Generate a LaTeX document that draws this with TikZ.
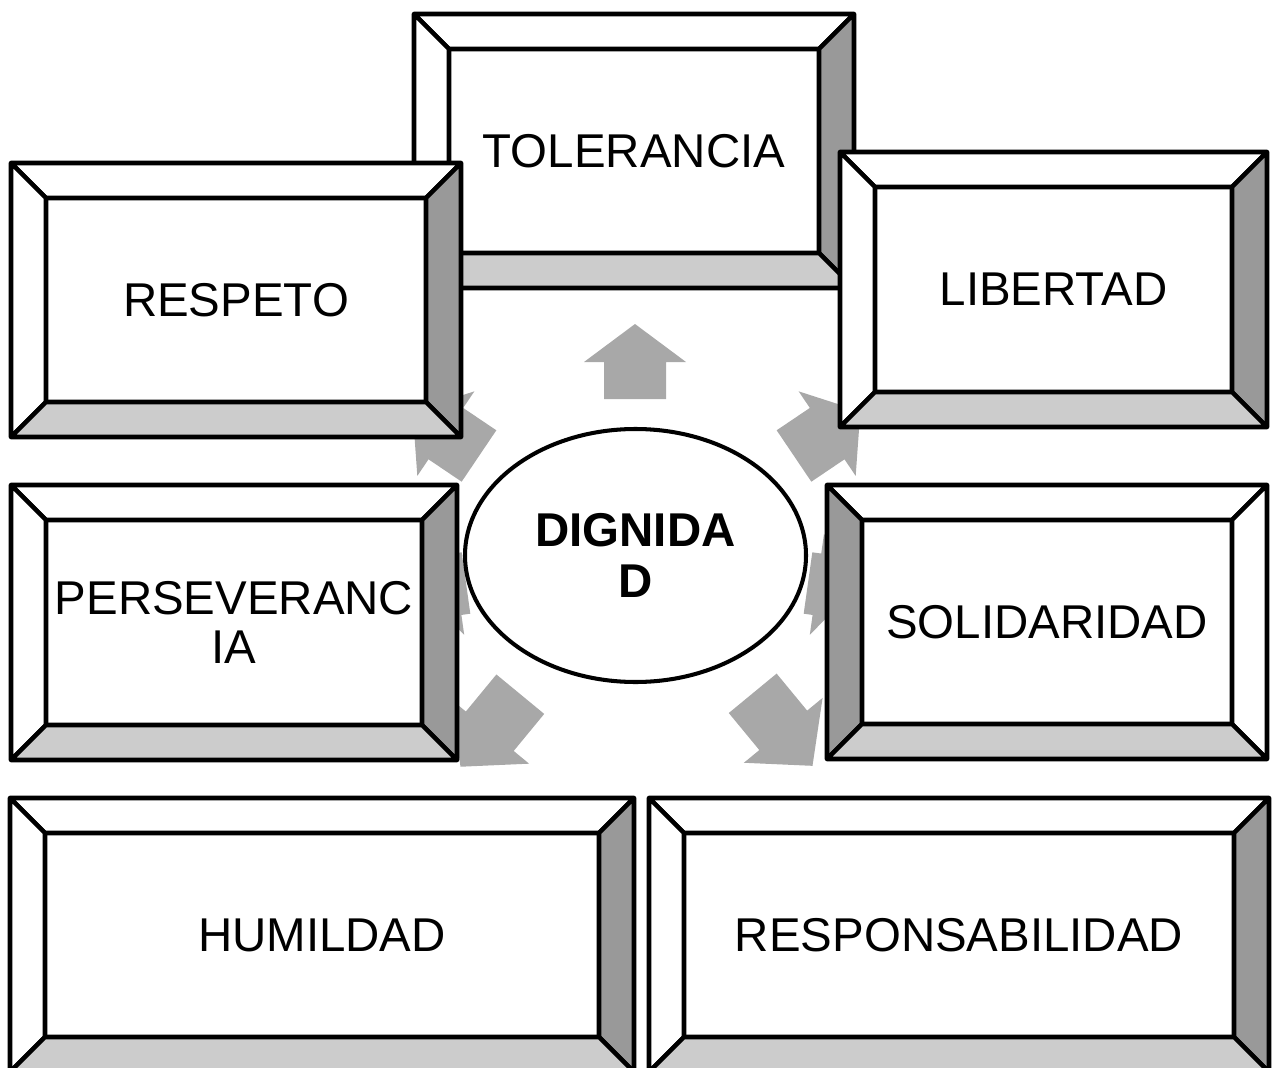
\documentclass[tikz,border=0pt]{standalone}
\usepackage{fontspec}
\setmainfont{Liberation Sans}
\usetikzlibrary{shapes.geometric}
\definecolor{bevdark}{HTML}{999999}
\definecolor{bevlight}{HTML}{CCCCCC}
\definecolor{spokegray}{HTML}{A8A8A8}
\newcommand{\px}{0.02cm}
\newcommand{\bevelframe}[3]{%
  \draw[frame, fill=white] (#1.north west) -- ([shift={(-35,-35)}]#1.north west) -- ([shift={(35,-35)}]#1.north east) -- (#1.north east) -- cycle;
  \draw[frame, fill=#2] (#1.north west) -- ([shift={(-35,-35)}]#1.north west) -- ([shift={(-35,35)}]#1.south west) -- (#1.south west) -- cycle;
  \draw[frame, fill=#3] (#1.north east) -- ([shift={(35,-35)}]#1.north east) -- ([shift={(35,35)}]#1.south east) -- (#1.south east) -- cycle;
  \draw[frame, fill=bevlight] (#1.south west) -- ([shift={(-35,35)}]#1.south west) -- ([shift={(35,35)}]#1.south east) -- (#1.south east) -- cycle;}
\newcommand{\blockarrow}[4]{%
  \fill[spoke, shift={(#1)}, rotate=#2] (0,-31) -- (#3,-31) -- (#3,-51) -- ({#3+#4},0) -- (#3,51) -- (#3,31) -- (0,31) -- cycle;}

\begin{document}
\begin{tikzpicture}[
                          x=\px, y=-\px,
                          value/.style={draw, line width=2.6pt, fill=white, outer sep=0pt,
                            inner sep=0pt, align=center, font=\fontsize{27}{27.8}\selectfont},
                          frame/.style={line width=2.6pt, line join=round},
                          spoke/.style={fill=spokegray},
                          centre/.style={ellipse, draw, line width=2.3pt, fill=white,
                            minimum width=341*\px, minimum height=253*\px,
                            align=center, font=\bfseries\fontsize{27}{29.5}\selectfont}]
                      \clip (0,0) rectangle (1275,1068);
                      \blockarrow{635,399}{90}{37}{38}
                      \blockarrow{794,456}{34}{40}{40}
                      \blockarrow{479,456}{146}{40}{40}
                      \blockarrow{808,583}{-8}{9}{38}
                      \blockarrow{466,583}{188}{9}{38}
                      \blockarrow{752.7,693.3}{309.5}{48}{46}
                      \blockarrow{520.3,694.2}{230.5}{48}{46}
                      \node[centre] (dignidad) at (635.5,555.5) {DIGNIDA\\D};
                      \node[value, minimum width=370*\px, minimum height=204*\px] (tolerancia) at (634,151) {TOLERANCIA};
                      \bevelframe{tolerancia}{white}{bevdark}
                      \node[value, minimum width=380*\px, minimum height=204*\px] (respeto) at (236,300) {RESPETO};
                      \bevelframe{respeto}{white}{bevdark}
                      \node[value, minimum width=357*\px, minimum height=205*\px] (libertad) at (1053.5,289.5) {LIBERTAD};
                      \bevelframe{libertad}{white}{bevdark}
                      \node[value, minimum width=376*\px, minimum height=205*\px] (perseverancia) at (234,622.5) {PERSEVERANC\\IA};
                      \bevelframe{perseverancia}{white}{bevdark}
                      \node[value, minimum width=370*\px, minimum height=204*\px] (solidaridad) at (1047,622) {SOLIDARIDAD};
                      \bevelframe{solidaridad}{bevdark}{white}
                      \node[value, minimum width=554*\px, minimum height=204*\px] (humildad) at (322,935) {HUMILDAD};
                      \bevelframe{humildad}{white}{bevdark}
                      \node[value, minimum width=550*\px, minimum height=204*\px] (responsabilidad) at (959,935) {RESPONSABILIDAD};
                      \bevelframe{responsabilidad}{white}{bevdark}
                  \end{tikzpicture}
\end{document}
